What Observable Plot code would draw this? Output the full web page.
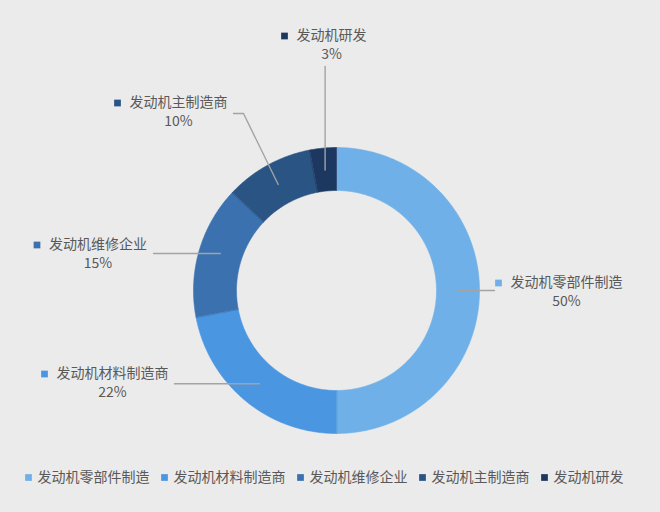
<!DOCTYPE html>
<html>
<head>
<meta charset="utf-8">
<script src="https://cdn.jsdelivr.net/npm/d3@7"></script>
<script src="https://cdn.jsdelivr.net/npm/@observablehq/plot@0.6"></script>
<style>
  html, body { margin: 0; padding: 0; background: #ebebeb; }
  #chart { width: 660px; height: 512px; }
</style>
</head>
<body>
<div id="chart"></div>
<script>
// ---- data ----
const categories = ["发动机零部件制造", "发动机材料制造商", "发动机维修企业", "发动机主制造商", "发动机研发"];
const shares = [50, 22, 15, 10, 3];
const pctLabels = ["50%", "22%", "15%", "10%", "3%"];
const colors = ["#6eb0e7", "#4a96e1", "#3a71ae", "#295484", "#1d3860"];

// ---- layout (pixel positions of labels in the 660x512 frame) ----
const CX = 336, CY = 290;          // ring centre
const R_OUT = 143, R_IN = 100, R_MID = 121;
const labelPos = [[566, 283], [112, 374], [97.5, 245], [178, 103], [331, 36]];
const LINE_GAP = 19;
const toX = px => px - CX, toY = py => CY - py;

const total = d3.sum(shares);
let acc = 0;
const slices = categories.map((c, i) => {
  const a0 = acc / total * 2 * Math.PI;
  acc += shares[i];
  const a1 = acc / total * 2 * Math.PI;
  return {cat: c, a0, a1, mid: (a0 + a1) / 2};
});

// ring polygons
const ringPts = [];
for (const s of slices) {
  const n = Math.max(8, Math.ceil((s.a1 - s.a0) / (Math.PI / 360)));
  for (let k = 0; k <= n; k++) {
    const a = s.a0 + (s.a1 - s.a0) * k / n;
    ringPts.push({cat: s.cat, x: R_OUT * Math.sin(a), y: R_OUT * Math.cos(a)});
  }
  for (let k = n; k >= 0; k--) {
    const a = s.a0 + (s.a1 - s.a0) * k / n;
    ringPts.push({cat: s.cat, x: R_IN * Math.sin(a), y: R_IN * Math.cos(a)});
  }
}

// leader lines
const leaderPts = [];
slices.forEach((s, i) => {
  const st = {x: R_MID * Math.sin(s.mid), y: R_MID * Math.cos(s.mid)};
  let pts;
  if (i === 0) pts = [st, {x: toX(494), y: st.y}];
  else if (i === 1) pts = [st, {x: toX(174), y: st.y}];
  else if (i === 2) pts = [{x: st.x, y: toY(253)}, {x: toX(153), y: toY(253)}];
  else if (i === 3) pts = [st, {x: toX(243), y: toY(113)}, {x: toX(233), y: toY(113)}];
  else pts = [st, {x: st.x, y: toY(66)}];
  pts.forEach(p => leaderPts.push({cat: s.cat, ...p}));
});

const labels = categories.map((c, i) => ({
  cat: c,
  pct: pctLabels[i],
  x: toX(labelPos[i][0]),
  y: toY(labelPos[i][1] - 0.5),
  py: toY(labelPos[i][1] - 0.5 + LINE_GAP),
  mx: toX(labelPos[i][0] - c.length * 14 / 2 - 12)
}));

// legend
const legend = [];
let tx = 37;
categories.forEach((c, i) => {
  legend.push({cat: c, tx: toX(tx), mx: toX(tx - 9), y: toY(477)});
  tx += c.length * 14 + 24;
});

const font = "'Noto Sans CJK SC', 'Noto Sans', sans-serif";
const textColor = "#595959";

const chart = Plot.plot({
  width: 660,
  height: 512,
  margin: 0,
  style: {background: "#ebebeb", fontFamily: font},
  x: {domain: [-CX, 660 - CX], axis: null},
  y: {domain: [CY - 512, CY], axis: null},
  color: {domain: categories, range: colors},
  marks: [
    Plot.line(ringPts, {x: "x", y: "y", z: "cat", fill: "cat", stroke: "cat", strokeWidth: 0.6, curve: "linear-closed"}),
    Plot.line(leaderPts, {x: "x", y: "y", z: "cat", stroke: "#a3a3a3", strokeWidth: 1.4}),
    Plot.dot(labels, {x: "mx", y: "y", symbol: "square", r: 3.8, fill: "cat", stroke: null}),
    Plot.text(labels, {x: "x", y: "y", text: "cat", fontSize: 14, fill: textColor, textAnchor: "middle", fontFamily: font}),
    Plot.text(labels, {x: "x", y: "py", text: "pct", fontSize: 14, fill: textColor, textAnchor: "middle", fontFamily: font}),
    Plot.dot(legend, {x: "mx", y: "y", symbol: "square", r: 3.8, fill: "cat", stroke: null}),
    Plot.text(legend, {x: "tx", y: "y", text: "cat", fontSize: 14, fill: textColor, textAnchor: "start", fontFamily: font})
  ]
});
document.getElementById("chart").appendChild(chart);
</script>
</body>
</html>
